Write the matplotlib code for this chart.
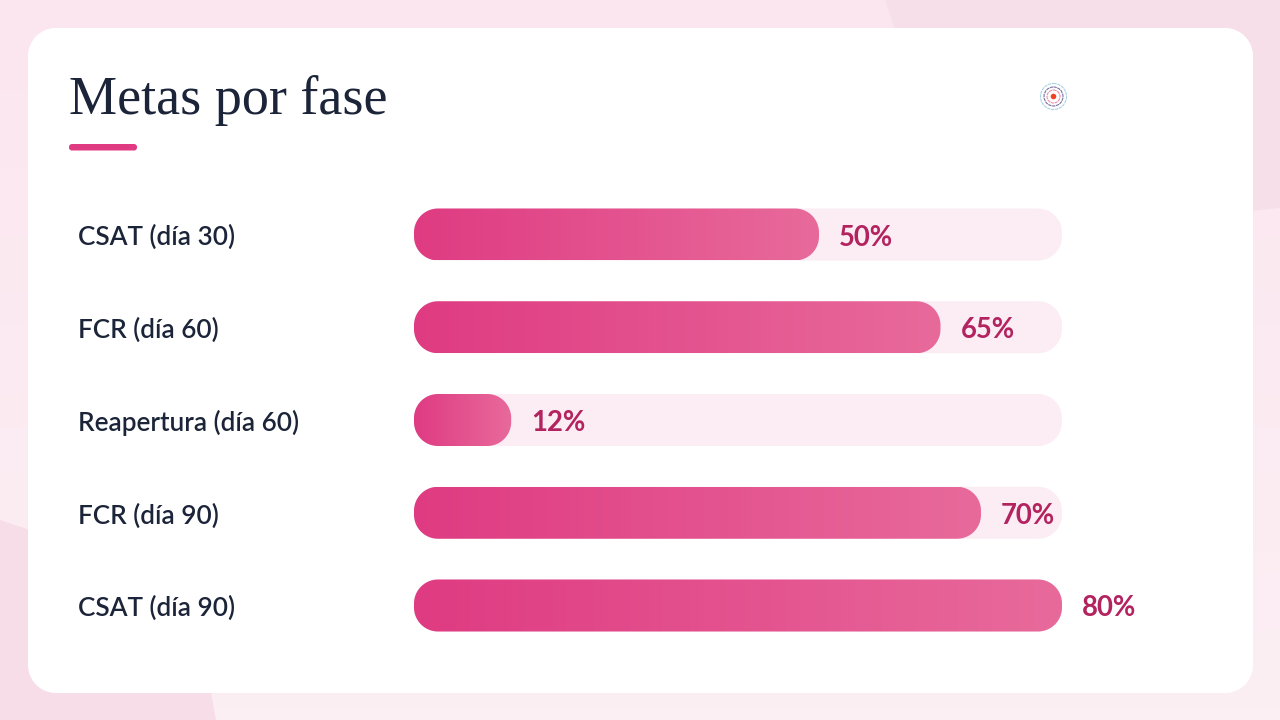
import numpy as np
import matplotlib
matplotlib.use('Agg')
import matplotlib.pyplot as plt
from matplotlib.patches import FancyBboxPatch, Polygon, Circle
from matplotlib.path import Path
from matplotlib.colors import LinearSegmentedColormap

# datos del grafico
etiquetas = ['CSAT (día 30)', 'FCR (día 60)', 'Reapertura (día 60)', 'FCR (día 90)', 'CSAT (día 90)']
valores = [50, 65, 12, 70, 80]
titulo = 'Metas por fase'

W, H = 1280, 720


def caja_redonda(r):
    # esquinas de circulo real, el estilo 'round' usa una curva mas cuadrada
    def estilo(x0, y0, w, h, mutation_size):
        rr = min(r, w / 2, h / 2)
        t = np.linspace(0, np.pi / 2, 24)
        puntos = []
        for cx, cy, a in [(x0 + w - rr, y0 + rr, -np.pi / 2), (x0 + w - rr, y0 + h - rr, 0),
                          (x0 + rr, y0 + h - rr, np.pi / 2), (x0 + rr, y0 + rr, np.pi)]:
            puntos += list(zip(cx + rr * np.cos(t + a), cy + rr * np.sin(t + a)))
        puntos.append(puntos[0])
        return Path(puntos, closed=True)
    return estilo


fig = plt.figure(figsize=(W / 100, H / 100), dpi=100)

# fondo y tarjeta en pixeles
bg = fig.add_axes([0, 0, 1, 1])
bg.set_xlim(0, W)
bg.set_ylim(H, 0)
bg.axis('off')
fondo = LinearSegmentedColormap.from_list('fondo', ['#fbe6ef', '#fbeff4'])
bg.imshow(np.linspace(0, 1, 64).reshape(-1, 1), cmap=fondo, extent=(0, W, H, 0), aspect='auto', zorder=0)
bg.set_xlim(0, W)
bg.set_ylim(H, 0)
bg.add_patch(Polygon([(885, 0), (1280, 0), (1280, 208), (1200, 216), (1200, 60), (905, 60)], color='#f6dfe9', lw=0, zorder=1))
bg.add_patch(Polygon([(0, 520), (60, 540), (60, 660), (205, 660), (216, 720), (0, 720)], color='#f6dde8', lw=0, zorder=1))
bg.add_patch(FancyBboxPatch((28, 28), 1225, 665, boxstyle=caja_redonda(28), fc='white', ec='none', zorder=2))

bg.text(69, 100, titulo, family='Liberation Serif', fontsize=39, color='#1b2438', va='center', ha='left', zorder=3)
bg.add_patch(FancyBboxPatch((69, 144), 68, 6.5, boxstyle=caja_redonda(3), fc='#e03a82', ec='none', zorder=3))

# icono
for r, c, lw in [(13, '#a9d3e2', 0.8), (9.5, '#7a6f9f', 0.8), (6.5, '#ee8fa6', 0.8)]:
    bg.add_patch(Circle((1053.5, 96.5), r, fc='none', ec=c, lw=lw, ls=(0, (3, 0.6)), zorder=3))
bg.add_patch(Circle((1053.5, 96.5), 2.8, fc='#ef4423', ec='none', zorder=3))

# barras: 80% ocupa 648 px
px_pct = 648 / 80
paso = 92.75
ax = fig.add_axes([414 / W, 1 - (234.5 + 4.5 * paso) / H, 100 * px_pct / W, 5 * paso / H])
ax.set_xlim(0, 100)
ax.set_ylim(4.5, -0.5)
ax.axis('off')
ax.patch.set_alpha(0)

cmap = LinearSegmentedColormap.from_list('barra', ['#df3b82', '#e86a9b'])
grad = np.linspace(0, 1, 256).reshape(1, -1)
alto = 52 / paso
asp = px_pct / paso
radio = 24 / px_pct
baja = 3 / paso  # el texto va un poco mas abajo

for i, (lab, val) in enumerate(zip(etiquetas, valores)):
    pista = FancyBboxPatch((0, i - alto / 2), 80, alto, boxstyle=caja_redonda(radio),
                           mutation_aspect=asp, fc='#fbedf3', ec='none')
    ax.add_patch(pista)
    barra = FancyBboxPatch((0, i - alto / 2), val, alto, boxstyle=caja_redonda(radio),
                           mutation_aspect=asp, fc='none', ec='none')
    ax.add_patch(barra)
    im = ax.imshow(grad, cmap=cmap, extent=(0, val, i + alto / 2, i - alto / 2), aspect='auto', zorder=2)
    im.set_clip_path(barra)
    ax.text(val + 20 / px_pct, i + baja, f'{val}%', family='Lato', fontweight='bold', fontsize=19.8,
            color='#b3235f', va='center', ha='left', zorder=3)
    ax.text(-336 / px_pct, i + baja, lab, family='Lato', fontweight='semibold', fontsize=18.8,
            color='#1b2438', va='center', ha='left', clip_on=False)
ax.set_xlim(0, 100)
ax.set_ylim(4.5, -0.5)

fig.savefig('out.png', dpi=100)
